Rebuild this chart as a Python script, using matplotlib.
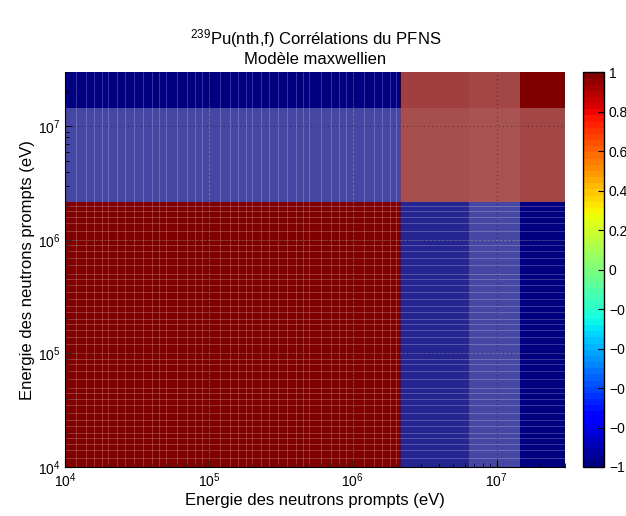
import numpy as np
import matplotlib
matplotlib.use('Agg')
import matplotlib.pyplot as plt
from matplotlib.colors import LinearSegmentedColormap

plt.rcParams['font.family'] = ['Liberation Sans', 'DejaVu Sans']
plt.rcParams['mathtext.fontset'] = 'custom'
plt.rcParams['mathtext.rm'] = 'Liberation Sans'
plt.rcParams['mathtext.it'] = 'Liberation Sans:italic'

# energy blocks of the correlation matrix (eV)
block_edges = [1e4, 2.15e6, 6.4e6, 1.45e7, 3e7]
# correlation between blocks (rows = y energies, cols = x energies)
correlations = [
    [1, -1, -1, -1],
    [-1, 1, 1, 1],
    [-1, 1, 1, 1],
    [-1, 1, 1, 1],
]
# shading left by the dense mesh of the fine energy grid
mesh_density = [
    [0.0, 0.15, 0.28, 0.0],
    [0.28, 0.31, 0.33, 0.28],
    [0.28, 0.31, 0.33, 0.28],
    [0.0, 0.25, 0.28, 0.0],
]
# nodes of the coarse energy grid (mantissas per decade)
mesh_mantissas = [1.0, 1.2, 1.4, 1.6, 1.8, 2.0, 2.3, 2.6, 3.0, 3.5, 4.0, 4.5, 5.0, 6.0, 7.0, 8.0, 9.0]
mesh_decades = [1e4, 1e5, 1e6]

cbar_ticks = [-1, -0.8, -0.6, -0.4, -0.2, 0, 0.2, 0.4, 0.6, 0.8, 1]
cbar_labels = ['\u22121', '\u22120.8', '\u22120.6', '\u22120.4', '\u22120.2', '0',
               '0.2', '0.4', '0.6', '0.8', '1']

fig = plt.figure(figsize=(6.26, 5.16), dpi=100)
ax = fig.add_axes([0.104, 0.095, 0.799, 0.765])
cax = fig.add_axes([0.931, 0.095, 0.034, 0.765])

X, Y = np.meshgrid(block_edges, block_edges)
jet = plt.get_cmap('jet', 64)
mesh = ax.pcolormesh(X, Y, np.array(correlations), cmap=jet, vmin=-1, vmax=1)

haze = LinearSegmentedColormap.from_list('haze', [(1, 1, 1, 0), (1, 1, 1, 1)])
ax.pcolormesh(X, Y, np.array(mesh_density), cmap=haze, vmin=0, vmax=1)

# faint mesh lines of the fine grid
nodes = [m * d for d in mesh_decades for m in mesh_mantissas if m * d <= 2.15e6]
ax.vlines(nodes, 1e4, 3e7, colors='white', linewidth=0.5, alpha=0.3)
ax.hlines(nodes, 1e4, 3e7, colors='white', linewidth=0.5, alpha=0.3)

ax.set_xscale('log')
ax.set_yscale('log')
ax.set_xlim(1e4, 3e7)
ax.set_ylim(1e4, 3e7)

for e in [1e5, 1e6, 1e7]:
    ax.axvline(e, color='black', linestyle=(0, (1, 4)), linewidth=0.6, alpha=0.6)
    ax.axhline(e, color='black', linestyle=(0, (1, 4)), linewidth=0.6, alpha=0.6)

ax.spines['top'].set_visible(False)
ax.spines['right'].set_visible(False)
ax.tick_params(which='both', direction='in', labelsize=10)
ax.tick_params(which='major', length=5)
ax.tick_params(which='minor', length=3)

ax.set_xlabel('Energie des neutrons prompts (eV)', fontsize=12, labelpad=2)
ax.set_ylabel('Energie des neutrons prompts (eV)', fontsize=12, labelpad=2)
ax.set_title('$^{239}$Pu(nth,f) Corrélations du PFNS\nModèle maxwellien', fontsize=12, pad=6)

cb = fig.colorbar(mesh, cax=cax, ticks=cbar_ticks)
cb.ax.set_yticklabels(cbar_labels)
cb.ax.tick_params(labelsize=10, direction='in', length=4)
cb.outline.set_linewidth(1.0)

fig.savefig('out.png', dpi=100)
